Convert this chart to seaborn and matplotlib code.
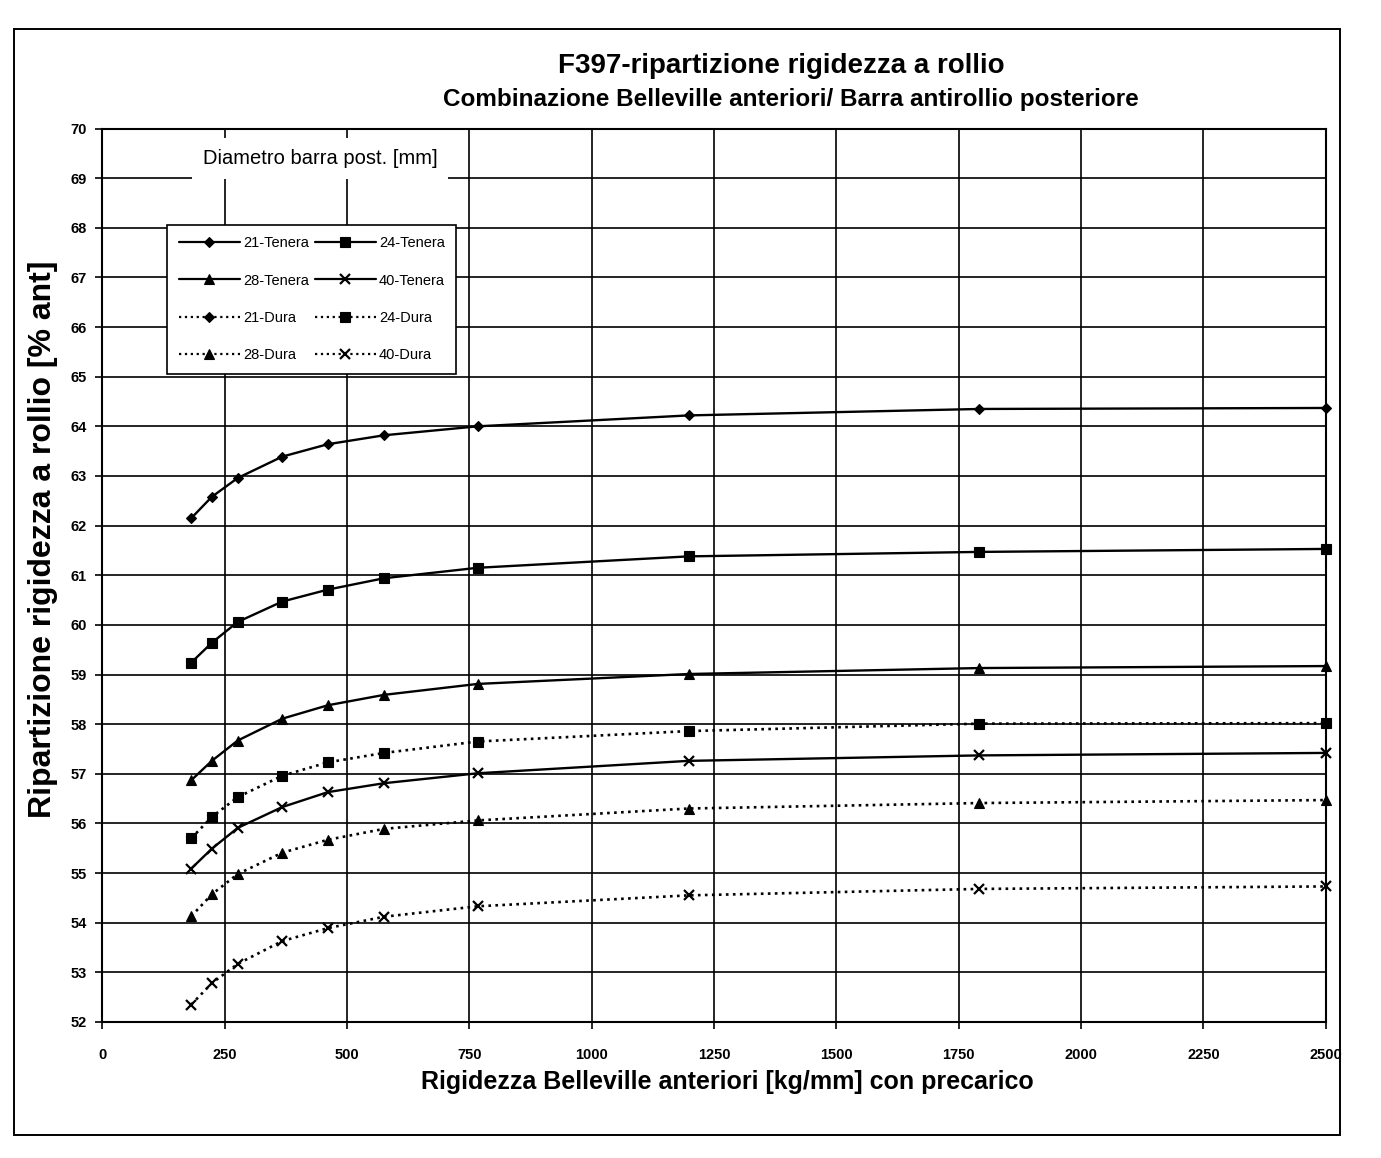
import numpy as np
import pandas as pd
import matplotlib
matplotlib.use("Agg")
import matplotlib.pyplot as plt
import seaborn as sns
from matplotlib.patches import Rectangle
from matplotlib.lines import Line2D

# ---- data ----
belleville_x = [182, 224, 277, 368, 461, 576, 767, 1198, 1792, 2500]
tenera_21 = [62.15, 62.58, 62.96, 63.39, 63.64, 63.82, 64.00, 64.22, 64.35, 64.37]
tenera_24 = [59.24, 59.64, 60.06, 60.47, 60.71, 60.94, 61.15, 61.38, 61.47, 61.53]
tenera_28 = [56.87, 57.26, 57.67, 58.11, 58.38, 58.59, 58.81, 59.01, 59.13, 59.17]
tenera_40 = [55.09, 55.49, 55.91, 56.33, 56.63, 56.81, 57.01, 57.26, 57.37, 57.42]
dura_21 = []  # listed in the legend, no points visible in the chart
dura_24 = [55.70, 56.13, 56.53, 56.96, 57.23, 57.42, 57.65, 57.86, 58.01, 58.02]
dura_28 = [54.13, 54.57, 54.98, 55.41, 55.67, 55.89, 56.06, 56.30, 56.41, 56.47]
dura_40 = [52.35, 52.78, 53.17, 53.63, 53.89, 54.12, 54.33, 54.55, 54.68, 54.73]

series_labels = ["21-Tenera", "24-Tenera", "28-Tenera", "40-Tenera",
                 "21-Dura", "24-Dura", "28-Dura", "40-Dura"]
series_values = [tenera_21, tenera_24, tenera_28, tenera_40,
                 dura_21, dura_24, dura_28, dura_40]
x_ticks = list(range(0, 2501, 250))
y_ticks = list(range(52, 71))

title = "F397-ripartizione rigidezza a rollio"
subtitle = "Combinazione Belleville anteriori/ Barra antirollio posteriore"
x_label = "Rigidezza Belleville anteriori [kg/mm] con precarico"
y_label = "Ripartizione rigidezza a rollio [% ant]"
note = "Diametro barra post. [mm]"

# ---- styles ----
markers = ["D", "s", "^", "x", "D", "s", "^", "x"]
msizes = [5.5, 6.5, 6.5, 7.5, 5.5, 6.5, 6.5, 7.5]
lstyles = ["-", "-", "-", "-", ":", ":", ":", ":"]

sns.set_theme(style="white")
plt.rcParams['font.family'] = ['Liberation Sans', 'DejaVu Sans']
plt.rcParams['text.color'] = 'black'
plt.rcParams['axes.labelcolor'] = 'black'
plt.rcParams['xtick.color'] = 'black'
plt.rcParams['ytick.color'] = 'black'

fig = plt.figure(figsize=(13.81, 11.58), dpi=100)
ax = fig.add_axes([0.074, 0.1175, 0.886, 0.7715])

handles = {}
for lab, vals, mk, ms, ls in zip(series_labels, series_values, markers, msizes, lstyles):
    mew = 1.6 if mk == "x" else 0.8
    if len(vals) == 0:
        h, = ax.plot([], [], color="black", marker=mk, markersize=ms, linestyle=ls,
                     lw=1.6, markeredgewidth=mew)
        handles[lab] = h
        continue
    df = pd.DataFrame({"x": belleville_x, "y": vals})
    sns.lineplot(data=df, x="x", y="y", ax=ax, color="black", marker=mk,
                 markersize=ms, linestyle=ls, lw=1.7 if ls == "-" else 1.9,
                 markeredgecolor="black", markerfacecolor="black",
                 markeredgewidth=mew, clip_on=False, zorder=3, legend=False)
    handles[lab] = Line2D([], [], color="black", marker=mk, markersize=ms, linestyle=ls,
                          lw=1.6, markeredgecolor="black", markerfacecolor="black",
                          markeredgewidth=mew)

ax.set_xlim(0, 2500)
ax.set_ylim(52, 70)
ax.set_xticks(x_ticks)
ax.set_yticks(y_ticks)
ax.set_xticklabels([str(v) for v in x_ticks], fontsize=10.5, fontweight="bold")
ax.set_yticklabels([str(v) for v in y_ticks], fontsize=10.5, fontweight="bold")
ax.tick_params(axis="both", which="both", direction="out", length=5, width=1.2,
               color="black", bottom=True, left=True)
ax.tick_params(axis="x", pad=14)
ax.tick_params(axis="y", pad=6)
ax.grid(True, color="black", lw=1.2)
ax.set_axisbelow(True)
for sp in ax.spines.values():
    sp.set_color("black")
    sp.set_linewidth(1.5)
ax.set_xlabel("")
ax.set_ylabel("")

# labels and titles
fig.text(0.566, 0.943, title, ha="center", va="center", fontsize=20, fontweight="bold")
fig.text(0.573, 0.914, subtitle, ha="center", va="center", fontsize=17.5, fontweight="bold")
fig.text(0.527, 0.066, x_label, ha="center", va="center", fontsize=18, fontweight="bold")
fig.text(0.031, 0.534, y_label, ha="center", va="center", fontsize=23, fontweight="bold",
         rotation=90)

ax.text(0.178, 0.966, note, transform=ax.transAxes, ha="center", va="center",
        fontsize=14.5, zorder=5,
        bbox=dict(facecolor="white", edgecolor="none", pad=8))

order = ["21-Tenera", "28-Tenera", "21-Dura", "28-Dura",
         "24-Tenera", "40-Tenera", "24-Dura", "40-Dura"]
leg = ax.legend([handles[k] for k in order], order, loc="upper left",
                bbox_to_anchor=(0.053, 0.8925), borderaxespad=0, ncol=2,
                fontsize=10.5, frameon=True, fancybox=False, framealpha=1,
                edgecolor="black", handlelength=4.2, labelspacing=1.6,
                columnspacing=0.4, handletextpad=0.2, borderpad=0.8)
leg.get_frame().set_linewidth(1.2)
leg.set_zorder(6)

# outer chart border
fig.patches.append(Rectangle((0.010, 0.020), 0.960, 0.955, transform=fig.transFigure,
                             fill=False, edgecolor="black", lw=1.4))

fig.savefig("out.png", dpi=100, facecolor="white")
